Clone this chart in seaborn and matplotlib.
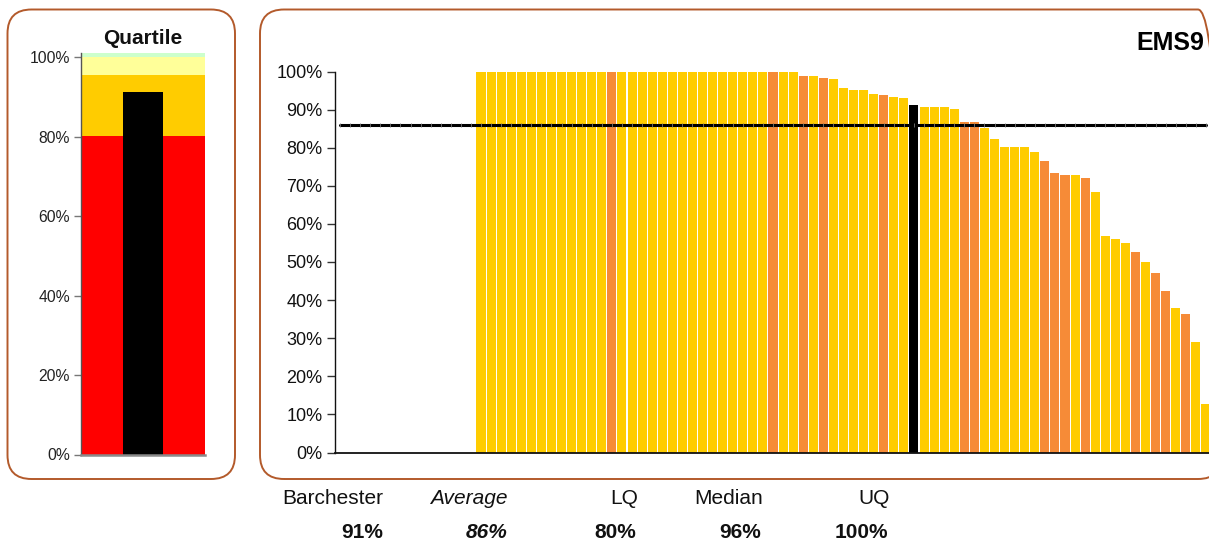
import numpy as np
import pandas as pd
import matplotlib
matplotlib.use("Agg")
import matplotlib.pyplot as plt
import seaborn as sns
from matplotlib.patches import FancyBboxPatch
from matplotlib.transforms import IdentityTransform
from matplotlib.ticker import PercentFormatter, MultipleLocator

# ---- data -------------------------------------------------------------
# trusts without a return occupy the first slots of the ranking
n_no_return = 14

# EMS9 scores, ranked from highest to lowest
scores = [
    1.000, 1.000, 1.000, 1.000, 1.000, 1.000, 1.000, 1.000, 1.000, 1.000,
    1.000, 1.000, 1.000, 1.000, 1.000, 1.000, 1.000, 1.000, 1.000, 1.000,
    1.000, 1.000, 1.000, 1.000, 1.000, 1.000, 1.000, 1.000, 1.000, 1.000,
    1.000, 1.000, 0.988, 0.988, 0.983, 0.980, 0.957, 0.952, 0.952, 0.941,
    0.938, 0.933, 0.930, 0.912, 0.907, 0.907, 0.907, 0.902, 0.867, 0.867,
    0.852, 0.823, 0.802, 0.802, 0.802, 0.789, 0.765, 0.734, 0.728, 0.728,
    0.720, 0.684, 0.568, 0.560, 0.550, 0.526, 0.500, 0.471, 0.424, 0.379,
    0.364, 0.290, 0.127,
]

# organisation type of each ranked score (T = trust, O = other, B = Barchester)
org_type = [
    "T", "T", "T", "T", "T", "T", "T", "T", "T", "T",
    "T", "T", "T", "O", "T", "T", "T", "T", "T", "T",
    "T", "T", "T", "T", "T", "T", "T", "T", "T", "O",
    "T", "T", "O", "T", "O", "T", "T", "T", "T", "T",
    "O", "T", "T", "B", "T", "T", "T", "T", "O", "O",
    "T", "T", "T", "T", "T", "T", "O", "O", "O", "T",
    "O", "T", "T", "T", "T", "O", "T", "O", "O", "T",
    "O", "T", "T",
]

# upper limit of the quartile scale
scale_top = 1.012

summary_names = ["Barchester", "Average", "LQ", "Median", "UQ"]

# ---- derived figures ----------------------------------------------------
score_arr = np.array(scores)
barchester = score_arr[org_type.index("B")]
average = score_arr.mean()
lq, median, uq = np.percentile(score_arr, [25, 50, 75])
summary_values = [barchester, average, lq, median, uq]

slot_scores = [np.nan] * n_no_return + scores
slot_types = ["T"] * n_no_return + org_type
slots = [f"S{i:02d}" for i in range(len(slot_scores))]
ranking = pd.DataFrame({"slot": slots, "score": slot_scores, "type": slot_types})

# ---- figure -----------------------------------------------------------------
sns.set_style("white")
plt.rcParams["font.family"] = ["Liberation Sans", "DejaVu Sans"]

W, H = 1209, 541
fig = plt.figure(figsize=(W / 100, H / 100), dpi=100)
fig.patch.set_facecolor("white")


def px_axes(left, top, right, bottom):
    return fig.add_axes([left / W, 1 - bottom / H, (right - left) / W, (bottom - top) / H])


def panel(left, top, right, bottom):
    box = FancyBboxPatch((left, H - bottom), right - left, bottom - top,
                         boxstyle="round,pad=0,rounding_size=24",
                         transform=IdentityTransform(), fc="none",
                         ec="#B35A2B", lw=1.4, zorder=0)
    fig.add_artist(box)


panel(7.5, 9.5, 235, 479)
panel(260, 9.5, 1222, 479)

# ---- quartile panel ---------------------------------------------------------
ax_q = px_axes(81, 52.7, 205, 454.5)
band_levels = [scale_top, uq, median, lq]
band_colors = ["#CCFFCC", "#FFFF99", "#FFCC00", "#FF0000"]
for level, colour in zip(band_levels, band_colors):
    sns.barplot(x=["Q"], y=[level], color=colour, width=1.0, saturation=1,
                linewidth=0, errorbar=None, ax=ax_q)
sns.barplot(x=["Q"], y=[barchester], color="black", width=0.32, saturation=1,
            linewidth=0, errorbar=None, ax=ax_q)
ax_q.set_xlim(-0.5, 0.5)
ax_q.set_ylim(0, scale_top)
ax_q.yaxis.set_major_locator(MultipleLocator(0.2))
ax_q.yaxis.set_major_formatter(PercentFormatter(1.0, decimals=0))
ax_q.set_xticks([])
ax_q.set_xlabel("")
ax_q.set_ylabel("")
for side in ("top", "right"):
    ax_q.spines[side].set_visible(False)
ax_q.spines["left"].set_color("#555555")
ax_q.spines["left"].set_linewidth(1.0)
ax_q.spines["bottom"].set_color("#8A8A8A")
ax_q.spines["bottom"].set_linewidth(1.8)
ax_q.tick_params(axis="y", direction="out", length=5, width=1, color="#777777",
                 labelsize=11.3, labelcolor="#222222", pad=3, left=True)

fig.text(143 / W, 1 - 38 / H, "Quartile", ha="center", va="center",
         fontsize=15, fontweight="bold", color="#111111")

# ---- ranking panel ----------------------------------------------------------
ax_m = px_axes(335, 71.5, 1211, 452.5)
palette = {"T": "#FFCC00", "O": "#F68B37", "B": "#000000"}
sns.barplot(data=ranking, x="slot", y="score", hue="type", order=slots,
            hue_order=["T", "O", "B"], palette=palette, dodge=False,
            width=0.9, saturation=1, linewidth=0, errorbar=None,
            legend=False, ax=ax_m)
positions = np.arange(len(slots))
sns.lineplot(x=positions, y=np.full(len(slots), average), color="black",
             lw=2.2, marker="|", ms=2.6, mec="#777777", mew=0.6, ax=ax_m,
             zorder=5)
ax_m.set_xlim(-0.5, len(slots) - 0.5)
ax_m.set_ylim(0, 1.0)
ax_m.yaxis.set_major_locator(MultipleLocator(0.1))
ax_m.yaxis.set_major_formatter(PercentFormatter(1.0, decimals=0))
ax_m.set_xticks([])
ax_m.set_xlabel("")
ax_m.set_ylabel("")
for side in ("top", "right"):
    ax_m.spines[side].set_visible(False)
ax_m.spines["left"].set_color("#111111")
ax_m.spines["left"].set_linewidth(1.0)
ax_m.spines["bottom"].set_color("#111111")
ax_m.spines["bottom"].set_linewidth(1.3)
ax_m.tick_params(axis="y", direction="out", length=6, width=1, color="#333333",
                 labelsize=13, labelcolor="#111111", pad=3, left=True)

fig.text(1204 / W, 1 - 43 / H, "EMS9", ha="right", va="center",
         fontsize=18, fontweight="bold", color="#000000")

# ---- summary figures below the chart -----------------------------------------
label_right = [383, 508, 638, 763, 890]
value_right = [383, 507, 636, 761, 888]
for i, (name, val) in enumerate(zip(summary_names, summary_values)):
    style = "italic" if name == "Average" else "normal"
    fig.text(label_right[i] / W, 1 - 498 / H, name, ha="right", va="center",
             fontsize=15, fontstyle=style, color="#111111")
    fig.text(value_right[i] / W, 1 - 532 / H, f"{val * 100:.0f}%", ha="right",
             va="center", fontsize=15, fontweight="bold", fontstyle=style,
             color="#111111")

fig.savefig("out.png", dpi=100)
